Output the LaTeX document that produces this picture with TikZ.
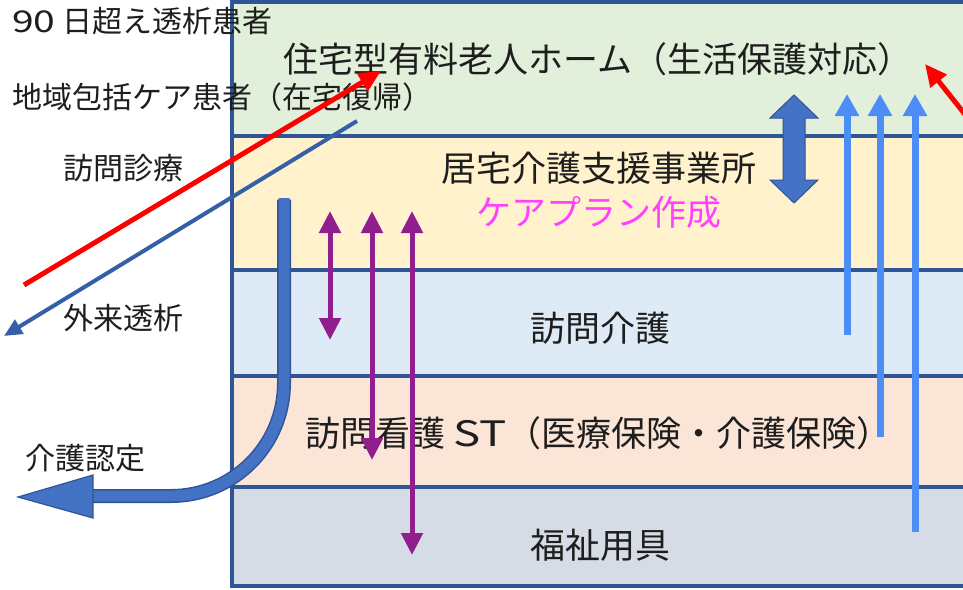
\documentclass[tikz,border=0pt]{standalone}
\usepackage{fontspec}
\usepackage{graphicx}
\setmainfont{Noto Sans CJK JP}
\usetikzlibrary{arrows.meta}
\definecolor{frameblue}{HTML}{2F5597}
\definecolor{blockblue}{HTML}{4472C4}
\definecolor{lineblue}{HTML}{3560A8}
\definecolor{skyblue}{HTML}{4C8DF6}
\definecolor{purp}{HTML}{911E8E}
\definecolor{bgreen}{HTML}{E2EFDA}
\definecolor{byellow}{HTML}{FFF2CC}
\definecolor{bblue}{HTML}{DEEBF7}
\definecolor{bpeach}{HTML}{FBE5D6}
\definecolor{bgray}{HTML}{D6DCE5}
\definecolor{txt}{HTML}{1E1E1E}
\definecolor{pinkt}{HTML}{FF40FF}
\newcommand{\widelatin}[1]{\scalebox{1.3}[1]{#1}}
\tikzset{
  band/.style={fill=#1, draw=none},
  sep/.style={draw=frameblue, line width=3.5pt},
  sidelabel/.style={anchor=west, inner sep=0pt, text=txt, font=\fontsize{30}{36}\selectfont},
  mainlabel/.style={anchor=west, inner sep=0pt, text=txt, font=\fontsize{35}{42}\selectfont},
  redarrow/.style={draw=red, line width=5pt, -{Triangle[width=20pt,length=22pt]}},
  bluearrow/.style={draw=lineblue, line width=4pt, -{Triangle[width=16pt,length=18pt]}},
  skyarrow/.style={draw=skyblue, line width=7pt, -{Triangle[width=23pt,length=22pt]}},
  purparrow/.style={draw=purp, line width=5pt, {Triangle[width=21pt,length=22pt]}-{Triangle[width=21pt,length=22pt]}},
}
\begin{document}
\begin{tikzpicture}[x=1pt,y=-1pt]
\path[use as bounding box] (0,0) rectangle (963,589);
\clip (0,0) rectangle (963,589);
\fill[white] (0,0) rectangle (963,589);
% bands
\path[band=bgreen]  (232,2) rectangle (970,136);
\path[band=byellow] (232,136) rectangle (970,270);
\path[band=bblue]   (232,270) rectangle (970,376);
\path[band=bpeach]  (232,376) rectangle (970,487);
\path[band=bgray]   (232,487) rectangle (970,586);
\foreach \yy in {2,136,270,376,487,586} \draw[sep] (230.25,\yy) -- (970,\yy);
\draw[sep] (232,0.25) -- (232,587.75);
% labels
\node[sidelabel] (l90) at (12,21) {\widelatin{90} 日超え透析患者};
\node[sidelabel] (lchiiki) at (12,97) {地域包括ケア患者（在宅復帰）};
\node[sidelabel] (lhoumon) at (63,168) {訪問診療};
\node[sidelabel] (lgairai) at (63,318) {外来透析};
\node[sidelabel] (lkaigo) at (25,458) {介護認定};
\node[mainlabel] (ljutaku) at (283,59) {住宅型有料老人ホーム（生活保護対応）};
\node[mainlabel] (lkyotaku) at (441,168) {居宅介護支援事業所};
\node[mainlabel, text=pinkt] (lcare) at (476,212) {ケアプラン作成};
\node[mainlabel] (lhkaigo) at (530,328) {訪問介護};
\node[mainlabel] (lkango) at (305,433) {訪問看護 \widelatin{ST}（医療保険・介護保険）};
\node[mainlabel] (lfukushi) at (530,545) {福祉用具};
% coordinates
\coordinate (rs) at (24,285); \coordinate (re) at (381,71);
\coordinate (bs) at (357,121); \coordinate (be) at (4,336);
\coordinate (r2s) at (975,127); \coordinate (r2e) at (925,64);
\foreach \x/\yb in {847/335,880/437,915/532} {
  \coordinate (s\x) at (\x,\yb); \coordinate (t\x) at (\x,94);
}
\foreach \x/\yb in {330/340,372/460,412/555} {
  \coordinate (pa\x) at (\x,211); \coordinate (pb\x) at (\x,\yb);
}
% arrows
\draw[redarrow] (rs) -- (re);
\draw[bluearrow] (bs) -- (be);
\draw[redarrow] (r2s) -- (r2e);
\foreach \x in {847,880,915} \draw[skyarrow] (s\x) -- (t\x);
\foreach \x in {330,372,412} \draw[purparrow] (pa\x) -- (pb\x);
% double block arrow
\filldraw[fill=blockblue, draw=frameblue, line width=1pt]
  (794,95) -- (818,118) -- (805,118) -- (805,180) -- (818,180) -- (794,203)
  -- (770,180) -- (783,180) -- (783,118) -- (770,118) -- cycle;
% big curved arrow
\coordinate (cs) at (284,198);
\coordinate (cc) at (284,496);
\coordinate (ce) at (92,496);
\draw[frameblue, line width=14pt, rounded corners=113pt] ([yshift=-1.5pt]cs) -- (cc) -- (ce);
\draw[blockblue, line width=11pt, rounded corners=113pt] (cs) -- (cc) -- (ce);
\filldraw[fill=blockblue, draw=frameblue, line width=1.2pt]
  (93,475) -- (18,497) -- (93,518) -- cycle;
\end{tikzpicture}
\end{document}
